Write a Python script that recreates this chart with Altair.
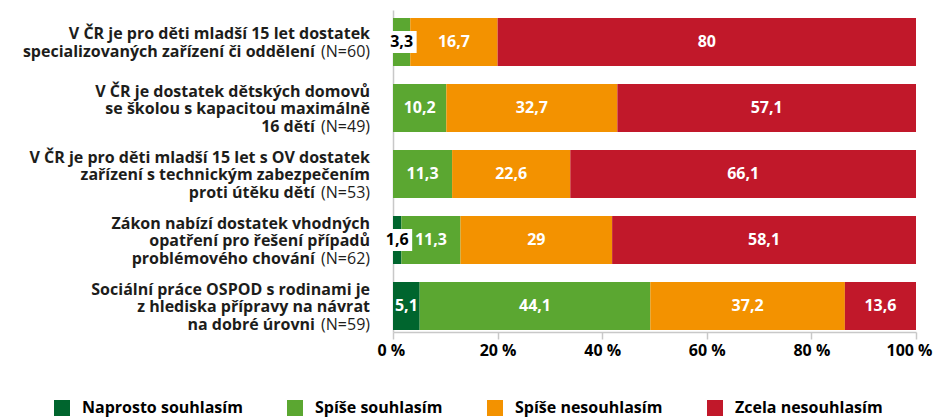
import altair as alt
import pandas as pd

FONT = "Open Sans"

questions = ["q1", "q2", "q3", "q4", "q5"]
label_lines = [
    ["V ČR je pro děti mladší 15 let dostatek", "specializovaných zařízení či oddělení"],
    ["V ČR je dostatek dětských domovů", "se školou s kapacitou maximálně", "16 dětí"],
    ["V ČR je pro děti mladší 15 let s OV dostatek", "zařízení s technickým zabezpečením", "proti útěku dětí"],
    ["Zákon nabízí dostatek vhodných", "opatření pro řešení případů", "problémového chování"],
    ["Sociální práce OSPOD s rodinami je", "z hlediska přípravy na návrat", "na dobré úrovni"],
]
n_labels = ["(N=60)", "(N=49)", "(N=53)", "(N=62)", "(N=59)"]

series = ["Naprosto souhlasím", "Spíše souhlasím", "Spíše nesouhlasím", "Zcela nesouhlasím"]
colors = ["#00652e", "#5ba731", "#f39200", "#c1182a"]

naprosto = [0, 0, 0, 1.6, 5.1]
spise_souhlasim = [3.3, 10.2, 11.3, 11.3, 44.1]
spise_nesouhlasim = [16.7, 32.7, 22.6, 29, 37.2]
zcela_nesouhlasim = [80, 57.1, 66.1, 58.1, 13.6]
values = [naprosto, spise_souhlasim, spise_nesouhlasim, zcela_nesouhlasim]

ticks = [0, 20, 40, 60, 80, 100]

rows = []
for i, q in enumerate(questions):
    for j, s in enumerate(series):
        rows.append({"q": q, "series": s, "order": j, "value": values[j][i]})
df = pd.DataFrame(rows)

# one row per label line; slot = half-line position of the line within its label (-2..2)
lab_rows = []
for q, lines, n in zip(questions, label_lines, n_labels):
    k = len(lines)
    slot_ids = [-1, 1] if k == 2 else [-2, 0, 2]
    for idx, (line, sl) in enumerate(zip(lines, slot_ids)):
        kind = "last" if idx == k - 1 else "full"
        lab_rows.append({"q": q, "slot": sl, "kind": kind, "txt": line})
    lab_rows.append({"q": q, "slot": slot_ids[-1], "kind": "n", "txt": n})
ldf = pd.DataFrame(lab_rows)

yscale = alt.Scale(domain=questions, paddingInner=0.273, paddingOuter=0.076, align=0.8)
ybase = alt.Y("q:N", sort=questions, scale=yscale,
              axis=alt.Axis(labels=False, ticks=False, title=None, domainColor="#c8c8c8", domainWidth=1.5))

bars = alt.Chart(df).mark_bar().encode(
    x=alt.X("value:Q", stack="zero", scale=alt.Scale(domain=[0, 100], nice=False),
            axis=alt.Axis(values=ticks, labelExpr="datum.value + ' %'", grid=False, title=None,
                          domainColor="#c8c8c8", domainWidth=1.5, tickColor="#c8c8c8", tickWidth=1.5, tickSize=7,
                          labelFont=FONT, labelFontSize=16, labelFontWeight="bold", labelColor="black",
                          labelPadding=3, labelFlush=True, labelFlushOffset=16)),
    y=ybase,
    color=alt.Color("series:N", sort=series, scale=alt.Scale(domain=series, range=colors),
                    legend=alt.Legend(title=None, orient="none", legendX=-339, legendY=390,
                                      direction="horizontal", columns=4, gridAlign="none",
                                      symbolType="square",
                                      symbolSize=256, symbolStrokeWidth=0, symbolOpacity=1,
                                      labelFont=FONT, labelFontSize=16, labelFontWeight="bold",
                                      labelColor="black", labelLimit=400, columnPadding=44,
                                      labelOffset=12, padding=0)),
    order=alt.Order("order:Q"),
)

stacked = alt.Chart(df).transform_filter("datum.value > 0").transform_stack(
    stack="value", as_=["x0", "x1"], groupby=["q"], sort=[alt.SortField("order")]
).transform_calculate(
    mid="(datum.x0 + datum.x1) / 2",
    lab="replace(toString(datum.value), '.', ',')",
)

boxes = stacked.transform_filter("datum.value < 4").mark_rect(width=30, height=22, color="white").encode(
    x=alt.X("mid:Q"), y=alt.Y("q:N", sort=questions),
)

texts = stacked.mark_text(font=FONT, fontSize=16, fontWeight="bold").encode(
    x=alt.X("mid:Q"),
    y=alt.Y("q:N", sort=questions),
    text="lab:N",
    color=alt.condition("datum.value < 4", alt.value("black"), alt.value("white")),
)

HALF_LINE = 8.75
label_layers = []
for kind, xpos, weight in [("full", -23, "bold"), ("last", -78, "bold"), ("n", -23, "normal")]:
    for sl in [-2, -1, 0, 1, 2]:
        if not ((ldf["kind"] == kind) & (ldf["slot"] == sl)).any():
            continue
        label_layers.append(
            alt.Chart(ldf).transform_filter(f"datum.kind == '{kind}' && datum.slot == {sl}").mark_text(
                align="right", baseline="middle", font=FONT, fontSize=16, fontWeight=weight,
                color="#1d1d1b", dy=sl * HALF_LINE + 1
            ).encode(
                x=alt.value(xpos),
                y=alt.Y("q:N", sort=questions),
                text="txt:N",
            )
        )

chart = alt.layer(bars, boxes, texts, *label_layers).properties(
    width=523, height=322,
    padding={"left": 385, "top": 2, "right": 18, "bottom": 85},
    autosize=alt.AutoSizeParams(type="none"),
).configure_view(stroke=None)

chart.save("out.html", embed_options={"renderer": "svg", "actions": False})
